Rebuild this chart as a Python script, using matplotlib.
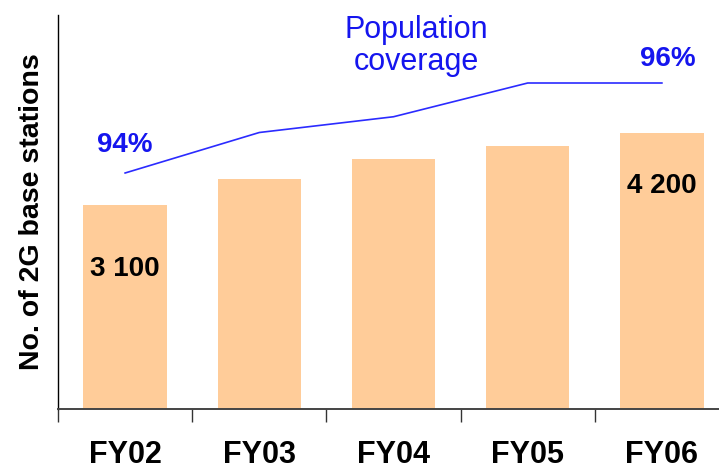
import matplotlib
matplotlib.use("Agg")
import matplotlib.pyplot as plt
import numpy as np

plt.rcParams['font.family'] = ['Liberation Sans', 'DejaVu Sans']

categories = ["FY02", "FY03", "FY04", "FY05", "FY06"]
stations = [3100, 3500, 3800, 4000, 4200]
coverage = [94.0, 94.9, 95.25, 96.0, 96.0]
bar_labels = {0: "3 100", 4: "4 200"}
cov_labels = {0: "94%", 4: "96%"}

W, H = 719, 471
fig = plt.figure(figsize=(W / 100, H / 100), dpi=100)
left, right, bottom, top = 58, 729, 409, 15
ax = fig.add_axes([left / W, (H - bottom) / H, (right - left) / W, (bottom - top) / H])

x = np.arange(len(categories))
ax.bar(x, stations, width=0.62, color="#FFCC99", zorder=2)
ax.set_xlim(-0.5, len(categories) - 0.5)
ax.set_ylim(0, 6000)
ax.spines['top'].set_visible(False)
ax.spines['right'].set_visible(False)
ax.spines['left'].set_linewidth(1.0)
ax.spines['bottom'].set_linewidth(1.4)
ax.spines['bottom'].set_color('#444444')
ax.set_yticks([])
ax.set_xticks(np.arange(len(categories) + 1) - 0.5)
ax.set_xticklabels([])
ax.tick_params(axis='x', which='major', length=9, width=1.0, direction='out', color='#333333')
ax.set_xticks(x, minor=True)
ax.set_xticklabels(categories, minor=True, fontsize=22, fontweight='bold')
ax.tick_params(axis='x', which='minor', length=0, pad=22)

label_frac = {0: 0.69, 4: 0.81}
for i, t in bar_labels.items():
    ax.text(x[i], stations[i] * label_frac[i], t, ha='center', va='center',
            fontsize=20, fontweight='bold', color='black', zorder=3)

fig.text(32 / W, 1 - 212 / H, "No. of 2G base stations", rotation=90, ha='center', va='center',
         fontsize=20.5, fontweight='bold')

ax2 = ax.twinx()
lo = 94 - 236 / 45
ax2.set_ylim(lo, lo + 394 / 45)
ax2.plot(x, coverage, color='#2B2BFF', linewidth=1.2)
ax2.axis('off')
ax2.text(x[0], 94 + 28 / 45, cov_labels[0], ha='center', va='center', fontsize=20,
         fontweight='bold', color='#1515EE')
ax2.text(x[4] + 0.045, 96 + 24 / 45, cov_labels[4], ha='center', va='center', fontsize=20,
         fontweight='bold', color='#1515EE')
ax2.text(2.167, 96 + 37 / 45, "Population\ncoverage", ha='center', va='center', fontsize=22,
         color='#1515EE', linespacing=1.12)

fig.savefig("out.png", dpi=100)
